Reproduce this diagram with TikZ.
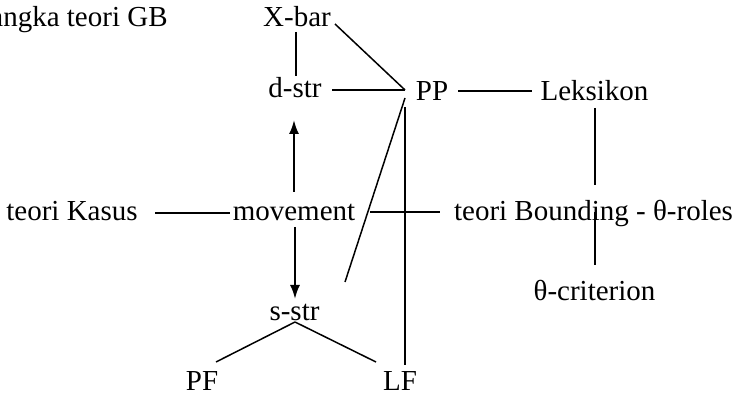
\documentclass[tikz,border=0pt]{standalone}
\usepackage{fontspec}
\setmainfont{Liberation Serif}
\usetikzlibrary{arrows.meta}
\begin{document}
\begin{tikzpicture}[x=0.5pt,y=-0.5pt,
  lbl/.style={inner sep=0pt,anchor=base,font=\fontsize{14.5pt}{17pt}\selectfont},
  conn/.style={line width=0.75pt},
  mv/.style={line width=1pt,-{Latex[length=7pt,width=5pt]}}]
\useasboundingbox (0,0) rectangle (737,394);
% nodes
\node[lbl,anchor=base east] (title) at (168,27) {angka teori GB};
\node[lbl] (xbar) at (297,27) {X-bar};
\node[lbl] (dstr) at (295,98) {d-str};
\node[lbl] (pp) at (432,101) {PP};
\node[lbl] (leks) at (594.5,101) {Leksikon};
\node[lbl] (kasus) at (72,221) {teori Kasus};
\node[lbl] (move) at (294,221) {movement};
\node[lbl] (bound) at (593.5,221) {teori Bounding - θ-roles};
\node[lbl] (crit) at (594.5,301) {θ-criterion};
\node[lbl] (sstr) at (294.5,321) {s-str};
\node[lbl] (pf) at (202,390) {PF};
\node[lbl] (lf) at (400,390) {LF};
% endpoints
\coordinate (xb-s) at (296,32);
\coordinate (ds-n) at (296,76);
\coordinate (xb-e) at (335,24);
\coordinate (pp-nw) at (405,90);
\coordinate (ds-e) at (332,90);
\coordinate (pp-e) at (458,91);
\coordinate (lk-w) at (532,91);
\coordinate (lk-s) at (595,108);
\coordinate (lk-end) at (595,185);
\coordinate (bd-mid) at (595,212);
\coordinate (cr-n) at (595,265);
\coordinate (pp-s) at (405,107);
\coordinate (lf-n) at (405,365);
\coordinate (pp-sw) at (405,98);
\coordinate (diag-end) at (345,282);
\coordinate (mv-e) at (370,212);
\coordinate (bd-w) at (440,212);
\coordinate (ks-e) at (155,213);
\coordinate (mv-w) at (230,213);
\coordinate (mv-n) at (294,192);
\coordinate (ds-s) at (294,120);
\coordinate (mv-s) at (295,227);
\coordinate (ss-n) at (295,299);
\coordinate (ss-s) at (295,322);
\coordinate (pf-n) at (216,362);
\coordinate (lf-nw) at (376,362);
% connectors
\draw[conn] (xb-s) -- (ds-n);
\draw[conn] (xb-e) -- (pp-nw);
\draw[conn] (ds-e) -- (pp-nw);
\draw[conn] (pp-e) -- (lk-w);
\draw[conn] (lk-s) -- (lk-end);
\draw[conn] (bd-mid) -- (cr-n);
\draw[conn] (pp-s) -- (lf-n);
\draw[conn] (pp-sw) -- (diag-end);
\draw[conn] (mv-e) -- (bd-w);
\draw[conn] (ks-e) -- (mv-w);
\draw[mv] (mv-n) -- (ds-s);
\draw[mv] (mv-s) -- (ss-n);
\draw[conn] (ss-s) -- (pf-n);
\draw[conn] (ss-s) -- (lf-nw);
\end{tikzpicture}
\end{document}
